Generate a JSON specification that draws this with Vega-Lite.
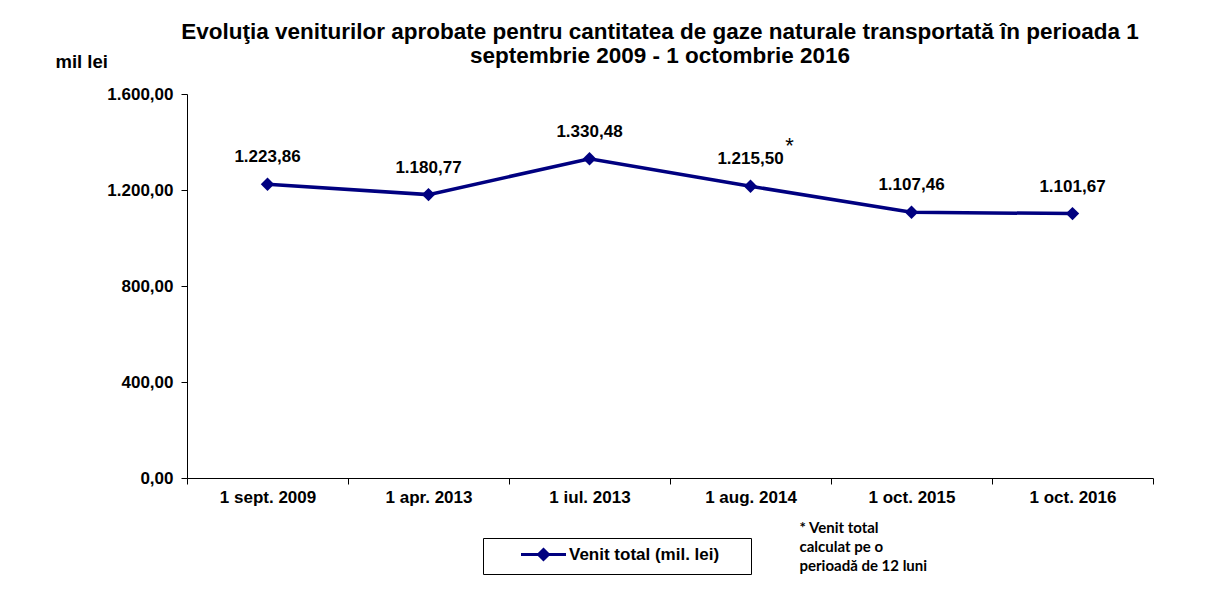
{
  "$schema": "https://vega.github.io/schema/vega-lite/v6.json",
  "width": 966,
  "height": 384,
  "autosize": {"type": "none"},
  "padding": {"left": 187, "top": 94, "right": 72, "bottom": 120},
  "background": "white",
  "config": {
    "locale": {"number": {"decimal": ",", "thousands": ".", "grouping": [3], "currency": ["", ""]}},
    "view": {"stroke": null},
    "font": "Liberation Sans",
    "axis": {"grid": false, "domainColor": "#000", "tickColor": "#000", "labelColor": "#000", "labelFont": "Liberation Sans", "labelFontSize": 17, "labelFontWeight": "bold", "domainWidth": 1, "tickWidth": 1}
  },
  "title": {
    "text": ["Evoluţia veniturilor aprobate pentru cantitatea de gaze naturale transportată în perioada 1", "septembrie 2009 - 1 octombrie 2016"],
    "fontSize": 22.5, "fontWeight": "bold", "color": "#000", "font": "Liberation Sans",
    "anchor": "middle", "frame": "group", "dx": -10, "dy": 25, "lineHeight": 24, "offset": 10
  },
  "data": {"values": [
    {"data": "1 sept. 2009", "venit": 1223.86, "nota": ""},
    {"data": "1 apr. 2013", "venit": 1180.77, "nota": ""},
    {"data": "1 iul. 2013", "venit": 1330.48, "nota": ""},
    {"data": "1 aug. 2014", "venit": 1215.50, "nota": "*"},
    {"data": "1 oct. 2015", "venit": 1107.46, "nota": ""},
    {"data": "1 oct. 2016", "venit": 1101.67, "nota": ""}
  ]},
  "encoding": {
    "x": {
      "field": "data", "type": "ordinal", "sort": null,
      "scale": {"type": "band", "paddingInner": 0, "paddingOuter": 0},
      "axis": {
        "title": ["* Venit total", "calculat pe o", "perioadă de 12 luni"],
        "titleX": 612, "titleY": 54, "titleAlign": "left", "titleBaseline": "alphabetic",
        "titleFont": "Lato", "titleFontSize": 15, "titleFontWeight": "bold", "titleColor": "#000",
        "titleLineHeight": 19,
        "labelAngle": 0, "tickBand": "extent", "tickSize": 6, "labelPadding": 5
      }
    },
    "y": {
      "field": "venit", "type": "quantitative",
      "scale": {"domain": [0, 1600], "nice": false},
      "axis": {
        "values": [0, 400, 800, 1200, 1600], "format": ",.2f", "tickSize": 6, "labelPadding": 8,
        "title": "mil lei", "titleAngle": 0, "titleX": -132, "titleY": -27, "titleAlign": "left", "titleBaseline": "alphabetic",
        "titleFont": "Liberation Sans", "titleFontSize": 18.5, "titleFontWeight": "bold", "titleColor": "#000"
      }
    }
  },
  "layer": [
    {
      "mark": {"type": "line", "strokeWidth": 3.5},
      "encoding": {
        "color": {
          "datum": "Venit total (mil. lei)",
          "scale": {"range": ["#000080"]},
          "legend": {
            "title": null, "orient": "none", "legendX": 296, "legendY": 444,
            "padding": 8, "strokeColor": "#000",
            "symbolType": "M3.58,0L11.08,0M7.33,-0.83L8.16,0L7.33,0.83L6.5,0Z",
            "symbolSize": 144, "symbolStrokeWidth": 3,
            "symbolFillColor": "#000080", "symbolStrokeColor": "#000080",
            "labelFont": "Liberation Sans", "labelFontSize": 17, "labelFontWeight": "bold", "labelColor": "#000",
            "labelOffset": 61, "labelLimit": 400,
            "labelExpr": "datum.label + '\u00a0\u00a0\u00a0\u00a0\u00a0\u200b'"
          }
        }
      }
    },
    {
      "mark": {"type": "point", "shape": "diamond", "filled": true, "size": 180, "opacity": 1, "color": "#000080"}
    },
    {
      "mark": {"type": "text", "dy": -27, "fontSize": 17, "fontWeight": "bold", "color": "#000", "font": "Liberation Sans"},
      "encoding": {"text": {"field": "venit", "type": "quantitative", "format": ",.2f"}}
    },
    {
      "mark": {"type": "text", "dx": 39, "dy": -40, "fontSize": 22, "color": "#000", "font": "Liberation Sans"},
      "encoding": {"text": {"field": "nota"}}
    }
  ]
}
